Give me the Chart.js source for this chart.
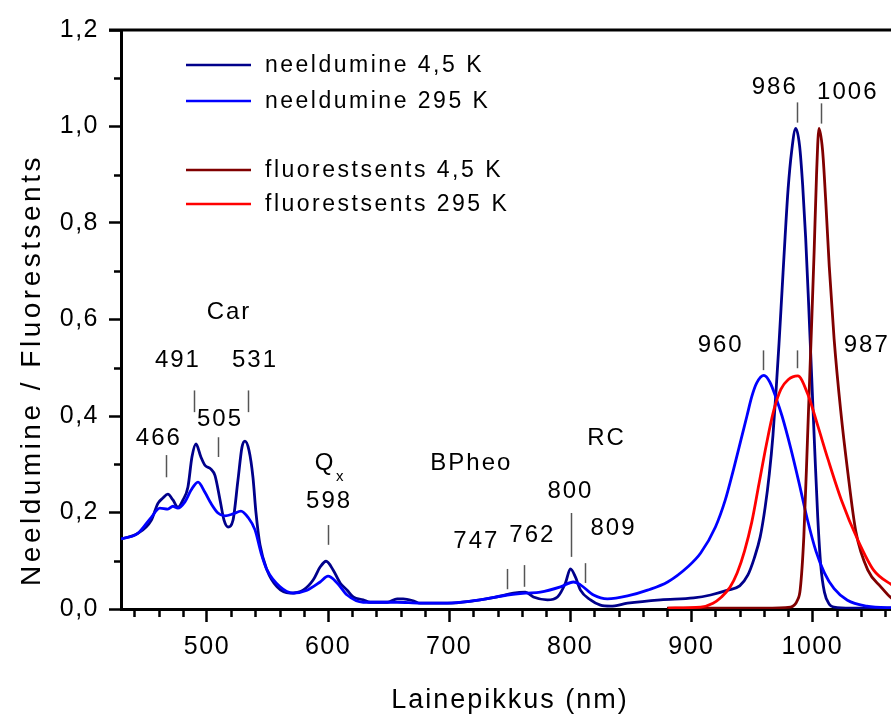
<!DOCTYPE html>
<html>
<head>
<meta charset="utf-8">
<script src="https://cdn.jsdelivr.net/npm/chart.js@4.4.0/dist/chart.umd.min.js"></script>
<style>
    html, body { margin: 0; padding: 0; background: #fff; }
</style>
</head>
<body>
<canvas id="spectrumChart" width="891" height="714"></canvas>
<script>
// Spectra: wavelength (nm) and normalised intensity
const absLowNm = [429, 443, 454, 459.5, 463.6, 467.7, 471.9, 476, 480.2, 484.3, 487.6, 490.9, 495, 498.3, 503.3, 506.6, 510.8, 514.1, 517.4, 521.5, 525.6, 528.9, 531.4, 534.7, 538, 540.5, 543.8, 549.6, 557.9, 568.6, 579.4, 587.7, 593.5, 598.4, 604.2, 610, 615.8, 620.8, 629, 634.8, 648.9, 657.1, 662.1, 670.4, 676.2, 698.5, 720, 739.9, 753.1, 763, 769.6, 781.2, 789.5, 796.1, 800.2, 804.4, 808.5, 816.8, 825, 833.3, 847.4, 874.7, 902, 916, 930.1, 940, 946.7, 952, 957, 961, 964.5, 967.5, 970, 972.5, 975, 977.5, 980, 983, 986.3, 989.5, 992, 994.5, 997, 999.5, 1002, 1004.5, 1007, 1010, 1014, 1018, 1032, 1070];
const absLowVal = [0.145, 0.157, 0.184, 0.219, 0.230, 0.238, 0.226, 0.211, 0.226, 0.253, 0.315, 0.342, 0.315, 0.298, 0.290, 0.277, 0.226, 0.184, 0.170, 0.184, 0.267, 0.335, 0.348, 0.329, 0.273, 0.199, 0.133, 0.081, 0.046, 0.033, 0.039, 0.060, 0.087, 0.099, 0.081, 0.054, 0.039, 0.025, 0.019, 0.014, 0.014, 0.021, 0.021, 0.017, 0.012, 0.012, 0.017, 0.025, 0.033, 0.035, 0.025, 0.019, 0.025, 0.054, 0.083, 0.066, 0.039, 0.019, 0.008, 0.006, 0.012, 0.019, 0.023, 0.029, 0.039, 0.048, 0.070, 0.105, 0.150, 0.210, 0.280, 0.360, 0.450, 0.550, 0.660, 0.770, 0.870, 0.950, 0.996, 0.960, 0.880, 0.770, 0.630, 0.480, 0.330, 0.190, 0.090, 0.035, 0.010, 0.004, 0.002, 0.002];

const absRoomNm = [429, 443, 454, 461.1, 467.7, 471.9, 476, 481.8, 486.8, 492.6, 498.3, 503.3, 509.1, 514.9, 521.5, 528.1, 533.9, 539.7, 544.7, 549.6, 560.4, 571.1, 582.7, 593.5, 600, 607.5, 615.8, 629, 657.1, 676.2, 698.5, 725.8, 748.1, 763, 775.4, 792, 802.7, 808.5, 819.3, 830.8, 847.4, 863.9, 880.5, 897, 907.8, 920, 928, 935, 941, 946, 950, 954, 960, 965, 970, 975, 982, 989, 996, 1003, 1010, 1018, 1029, 1045, 1070];
const absRoomVal = [0.145, 0.157, 0.190, 0.209, 0.207, 0.213, 0.209, 0.222, 0.246, 0.263, 0.242, 0.219, 0.199, 0.193, 0.197, 0.203, 0.190, 0.164, 0.116, 0.081, 0.046, 0.033, 0.039, 0.056, 0.068, 0.054, 0.029, 0.014, 0.014, 0.012, 0.012, 0.019, 0.029, 0.033, 0.035, 0.046, 0.056, 0.050, 0.029, 0.021, 0.027, 0.039, 0.056, 0.087, 0.116, 0.170, 0.225, 0.290, 0.350, 0.400, 0.440, 0.468, 0.484, 0.470, 0.438, 0.400, 0.335, 0.262, 0.185, 0.120, 0.075, 0.042, 0.018, 0.006, 0.002];

const fluorLowNm = [880, 960, 982, 987.9, 990, 993, 996, 999, 1001.5, 1003.5, 1005.5, 1008.5, 1011, 1014, 1018, 1023.5, 1029, 1036, 1046, 1056.6, 1065.7, 1075];
const fluorLowVal = [0.002, 0.002, 0.004, 0.019, 0.040, 0.150, 0.350, 0.560, 0.740, 0.900, 0.996, 0.950, 0.850, 0.710, 0.560, 0.410, 0.290, 0.160, 0.080, 0.046, 0.022, 0.012];

const fluorRoomNm = [881, 907.8, 918, 925, 932, 938, 944, 950, 956, 962, 968, 974, 980, 988, 996.3, 1004.5, 1013, 1024, 1037.6, 1050.8, 1065.7, 1075];
const fluorRoomVal = [0.002, 0.004, 0.012, 0.025, 0.045, 0.075, 0.120, 0.180, 0.260, 0.340, 0.410, 0.455, 0.475, 0.483, 0.445, 0.380, 0.310, 0.226, 0.143, 0.080, 0.050, 0.035];

const seriesNames = ['neeldumine 4,5 K', 'neeldumine 295 K', 'fluorestsents 4,5 K', 'fluorestsents 295 K'];
const xTickValues = [500, 600, 700, 800, 900, 1000];
const yTickValues = [0, 0.2, 0.4, 0.6, 0.8, 1.0, 1.2];

const FONT = '"Liberation Sans", Arial, sans-serif';
const colors = ['#00008b', '#0000ff', '#800000', '#ff0000'];

// peak markers: label, where the small tick sits (nm, y from-to), where the label sits
const peakMarks = [
    { text: '466', nm: 466, tick: [0.273, 0.319], at: [460.3, 0.340] },
    { text: '491', nm: 489, tick: [0.408, 0.453], at: [476, 0.501] },
    { text: '505', nm: 509, tick: [0.315, 0.356], at: [510.8, 0.379] },
    { text: '531', nm: 534, tick: [0.408, 0.453], at: [539.7, 0.501] },
    { text: '598', nm: 600, tick: [0.133, 0.174], at: [600.9, 0.209] },
    { text: '747', nm: 748, tick: [0.041, 0.083], at: [722.5, 0.126] },
    { text: '762', nm: 762, tick: [0.046, 0.091], at: [768.8, 0.139] },
    { text: '800', nm: 801, tick: [0.108, 0.199], at: [800.2, 0.230] },
    { text: '809', nm: 812.5, tick: [0.054, 0.095], at: [835.8, 0.153] },
    { text: '960', nm: 959, tick: [0.495, 0.536], at: [924.3, 0.532] },
    { text: '986', nm: 987, tick: [1.008, 1.050], at: [969, 1.068] },
    { text: '1006', nm: 1007, tick: [1.006, 1.048], at: [1029.3, 1.056] },
    { text: '987', nm: 987, tick: [0.499, 0.536], at: [1045, 0.532] }
];
const bandLabels = [
    { text: 'Car', at: [518.2, 0.602] },
    { text: 'BPheo', at: [718.4, 0.288] },
    { text: 'RC', at: [830, 0.340] }
];

function toPoints(nm, val) {
    return nm.map((x, i) => ({ x: x, y: val[i] }));
}

function lineSet(label, nm, val, color) {
    return {
        label: label,
        data: toPoints(nm, val),
        borderColor: color,
        backgroundColor: color,
        borderWidth: 2.8,
        pointRadius: 0,
        cubicInterpolationMode: 'monotone',
        fill: false
    };
}

// draws frame top, minor ticks, legend, peak labels and axis titles
const spectrumDecor = {
    id: 'spectrumDecor',
    beforeDraw(chart) {
        chart.ctx.letterSpacing = '1.5px';
    },
    afterDraw(chart) {
        const { ctx, chartArea: area, scales } = chart;
        const xs = scales.x, ys = scales.y;
        ctx.save();

        // top frame line
        ctx.strokeStyle = '#000';
        ctx.lineWidth = 3;
        ctx.beginPath();
        ctx.moveTo(area.left - 12, area.top);
        ctx.lineTo(area.right, area.top);
        ctx.stroke();

        // minor ticks
        ctx.lineWidth = 2.5;
        ctx.beginPath();
        for (let v = 440; v <= 1060; v += 20) {
            if (v % 100 === 0) continue;
            const px = Math.round(xs.getPixelForValue(v)) + 0.5;
            ctx.moveTo(px, area.bottom);
            ctx.lineTo(px, area.bottom + 8);
        }
        for (let k = 1; k < 12; k += 2) {
            const py = Math.round(ys.getPixelForValue(k / 10)) + 0.5;
            ctx.moveTo(area.left, py);
            ctx.lineTo(area.left - 7, py);
        }
        ctx.stroke();

        // legend
        const legendY = [65, 101, 170, 204];
        ctx.font = '23px ' + FONT;
        ctx.letterSpacing = '2.5px';
        ctx.textAlign = 'left';
        ctx.textBaseline = 'middle';
        seriesNames.forEach((name, i) => {
            ctx.strokeStyle = colors[i];
            ctx.lineWidth = 2.5;
            ctx.beginPath();
            ctx.moveTo(186, legendY[i]);
            ctx.lineTo(251, legendY[i]);
            ctx.stroke();
            ctx.fillStyle = '#000';
            ctx.fillText(name, 265, legendY[i] + 1);
        });

        // peak markers
        ctx.font = '24px ' + FONT;
        ctx.letterSpacing = '2px';
        ctx.textAlign = 'center';
        ctx.textBaseline = 'alphabetic';
        ctx.strokeStyle = '#555';
        ctx.lineWidth = 1.5;
        peakMarks.forEach(m => {
            const px = Math.round(xs.getPixelForValue(m.nm)) + 0.5;
            ctx.beginPath();
            ctx.moveTo(px, ys.getPixelForValue(m.tick[0]));
            ctx.lineTo(px, ys.getPixelForValue(m.tick[1]));
            ctx.stroke();
            ctx.fillText(m.text, xs.getPixelForValue(m.at[0]), ys.getPixelForValue(m.at[1]));
        });
        bandLabels.forEach(b => {
            ctx.fillText(b.text, xs.getPixelForValue(b.at[0]), ys.getPixelForValue(b.at[1]));
        });

        // Q with subscript x
        const qx = xs.getPixelForValue(597.6), qy = ys.getPixelForValue(0.288);
        ctx.fillText('Q', qx, qy);
        ctx.font = '15px ' + FONT;
        ctx.letterSpacing = '0px';
        ctx.textAlign = 'left';
        ctx.fillText('x', qx + 11, qy + 11);

        // axis titles
        ctx.font = '27px ' + FONT;
        ctx.letterSpacing = '2px';
        ctx.textAlign = 'center';
        ctx.fillText('Lainepikkus (nm)', 510, 708);
        ctx.font = '28px ' + FONT;
        ctx.letterSpacing = '3.5px';
        ctx.translate(40, 370);
        ctx.rotate(-Math.PI / 2);
        ctx.fillText('Neeldumine / Fluorestsents', 0, 0);

        ctx.restore();
        ctx.letterSpacing = '0px';
    }
};

const ctx = document.getElementById('spectrumChart').getContext('2d');
new Chart(ctx, {
    type: 'line',
    data: {
        datasets: [
            lineSet(seriesNames[3], fluorRoomNm, fluorRoomVal, colors[3]),
            lineSet(seriesNames[2], fluorLowNm, fluorLowVal, colors[2]),
            lineSet(seriesNames[1], absRoomNm, absRoomVal, colors[1]),
            lineSet(seriesNames[0], absLowNm, absLowVal, colors[0])
        ]
    },
    options: {
        responsive: false,
        animation: false,
        events: [],
        layout: { padding: { top: 30, right: 0, left: 0, bottom: 0 } },
        plugins: {
            legend: { display: false },
            tooltip: { enabled: false }
        },
        scales: {
            x: {
                type: 'linear',
                min: 429,
                max: 1065,
                afterBuildTicks: scale => { scale.ticks = xTickValues.map(v => ({ value: v })); },
                afterFit: scale => { scale.height = 105; },
                border: { display: true, color: '#000', width: 3 },
                grid: { display: true, drawOnChartArea: false, drawTicks: true, tickLength: 13, tickWidth: 2.5, tickColor: '#000' },
                ticks: {
                    color: '#000',
                    padding: 10,
                    maxRotation: 0,
                    font: { family: FONT, size: 25 },
                    callback: value => String(value)
                }
            },
            y: {
                min: 0,
                max: 1.2,
                afterBuildTicks: scale => { scale.ticks = yTickValues.map(v => ({ value: v })); },
                afterFit: scale => { scale.width = 121; },
                border: { display: true, color: '#000', width: 3 },
                grid: { display: true, drawOnChartArea: false, drawTicks: true, tickLength: 12, tickWidth: 2.5, tickColor: '#000' },
                ticks: {
                    color: '#000',
                    padding: 10,
                    font: { family: FONT, size: 25 },
                    callback: value => value.toFixed(1).replace('.', ',')
                }
            }
        }
    },
    plugins: [spectrumDecor]
});
</script>
</body>
</html>
